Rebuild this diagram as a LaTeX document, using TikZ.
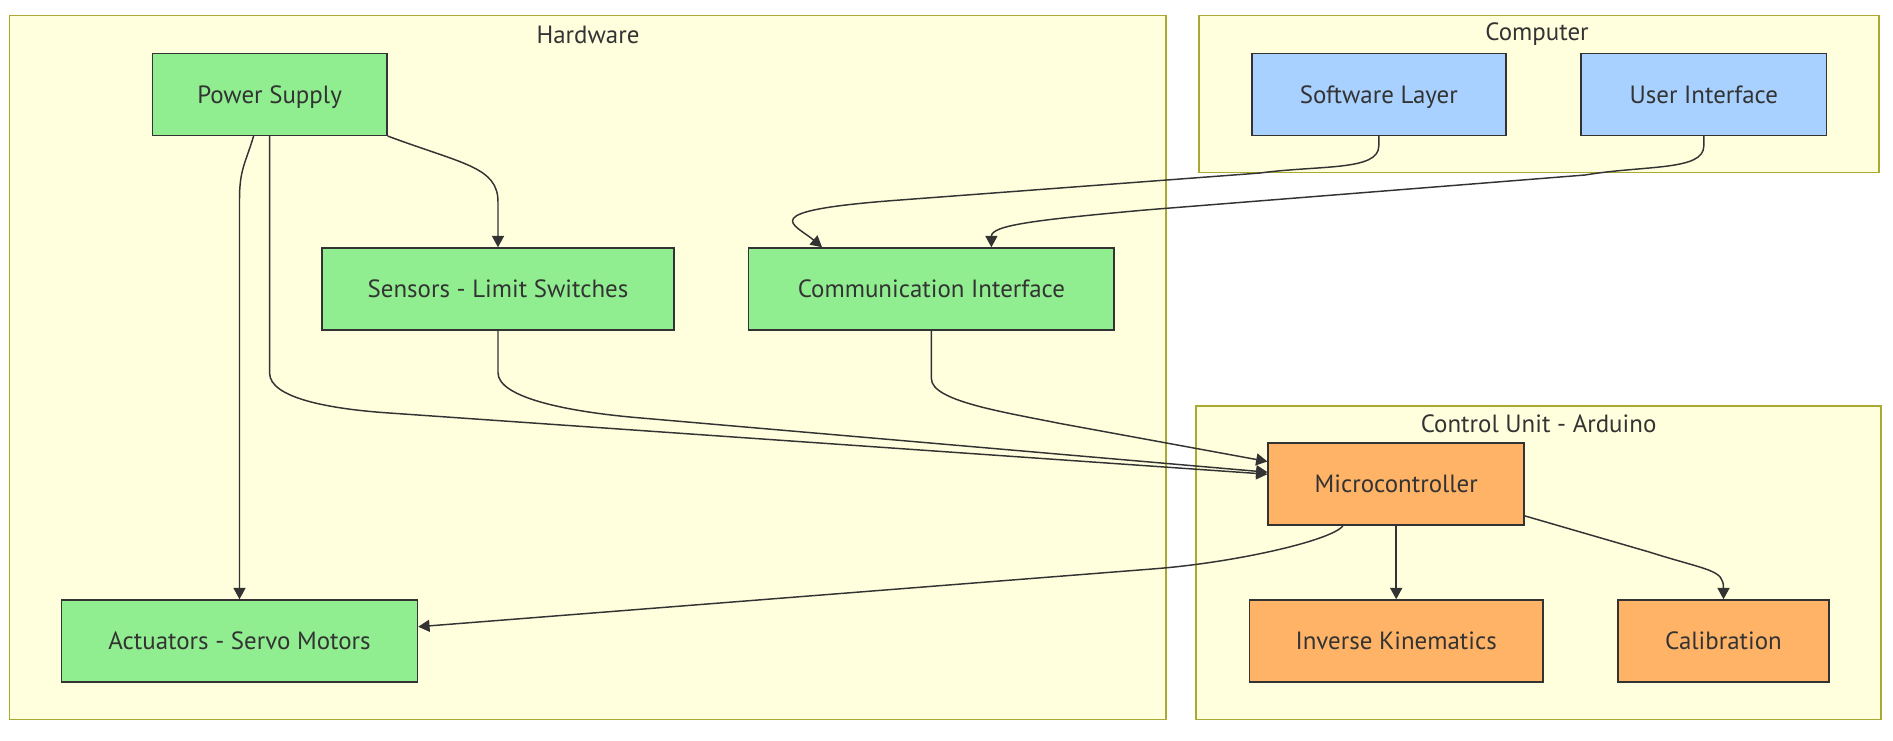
\documentclass[tikz,border=0pt]{standalone}
\usepackage{fontspec}
\setmainfont{PT Sans}
\usepackage{tikz}
\usetikzlibrary{arrows.meta,positioning}

\definecolor{clfill}{HTML}{FFFFDE}
\definecolor{cldraw}{HTML}{AAAA33}
\definecolor{hwgreen}{HTML}{90EE90}
\definecolor{pcblue}{HTML}{A8D1FF}
\definecolor{ctrlorange}{HTML}{FFB366}
\definecolor{ink}{HTML}{333333}

\begin{document}
\begin{tikzpicture}[x=0.75pt,y=-0.75pt,font=\fontsize{18.7}{22}\selectfont,text=ink,
	cluster/.style={draw=cldraw,fill=clfill,line width=1.1pt},
	box/.style={draw=ink,line width=1.1pt,minimum height=61.5pt,inner sep=0pt,text height=13.1pt,text depth=0pt},
	hw/.style={box,fill=hwgreen},
	pc/.style={box,fill=pcblue},
	ctrl/.style={box,fill=ctrlorange},
	flow/.style={draw=ink,line width=1.1pt,-{Triangle[length=8.5pt,width=9pt]}}]
		\useasboundingbox (0,0) rectangle (1893,741);
		% groups
		\draw[cluster] (9.7,15.7) rectangle (1166,719.6);
		\draw[cluster] (1199,15.7) rectangle (1879,172.6);
		\draw[cluster] (1196,406) rectangle (1881,719.6);
		\node (hwlabel) at (588,34.5) {Hardware};
		\node (pclabel) at (1537,34.5) {Computer};
		\node (ctrllabel) at (1538.6,424) {Control Unit - Arduino};
		% hardware
		\node[hw,minimum width=176pt] (power) at (269.6,94.3) {Power Supply};
		\node[hw,minimum width=264pt] (sensors) at (498,289) {Sensors - Limit Switches};
		\node[hw,minimum width=274pt] (comm) at (931.4,289) {Communication Interface};
		\node[hw,minimum width=267pt] (actuators) at (239.5,641) {Actuators - Servo Motors};
		% computer
		\node[pc,minimum width=190.5pt] (software) at (1378.8,94.3) {Software Layer};
		\node[pc,minimum width=184pt] (user) at (1703.8,94.3) {User Interface};
		% control unit
		\node[ctrl,minimum width=192pt] (micro) at (1396.2,484.2) {Microcontroller};
		\node[ctrl,minimum width=220pt] (ik) at (1396.2,641) {Inverse Kinematics};
		\node[ctrl,minimum width=158pt] (calib) at (1723.5,641) {Calibration};
		% links
		\draw[flow] (power.south east) .. controls +(75,28) and +(0,-35) .. ([yshift=34pt]sensors.north) -- (sensors.north);
		\draw[flow] ([xshift=-12pt]power.south) .. controls +(-8,27) and +(0,-30) .. ([yshift=300pt]actuators.north) -- (actuators.north);
		\draw[flow] (power.south) -- ++(0,237) .. controls +(0,25) and +(-60,-4) .. ++(120,40) -- ([yshift=7.5pt]micro.west);
		\draw[flow] (sensors.south) -- ++(0,42) .. controls +(0,25) and +(-70,-6) .. ++(140,45) -- ([yshift=9pt]micro.west);
		\draw[flow] (comm.south) -- ++(0,48) .. controls +(0,22) and +(-60,-12) .. ++(130,45) -- ([yshift=17pt]micro.west);
		\draw[flow] (software.south) -- ++(0,10) .. controls +(0,25) and +(60,-8) .. ++(-119,27) -- ++(-360,27) .. controls +(-150,11) and +(-27,-23) .. ([xshift=-82pt]comm.north);
		\draw[flow] (user.south) -- ++(0,10) .. controls +(0,25) and +(60,-10) .. ++(-119,29) -- ++(-440,35) .. controls +(-110,10) and +(0,-22) .. ([xshift=45pt]comm.north);
		\draw[flow] ([xshift=-40pt]micro.south) .. controls +(-12,15) and +(80,-6) .. ++(-190,43) -- ([yshift=10.7pt]actuators.east);
		\draw[flow] (micro) -- (ik);
		\draw[flow] ([yshift=7.5pt]micro.south east) -- ++(124,36) .. controls +(60,19) and +(0,-30) .. (calib.north);
\end{tikzpicture}
\end{document}
